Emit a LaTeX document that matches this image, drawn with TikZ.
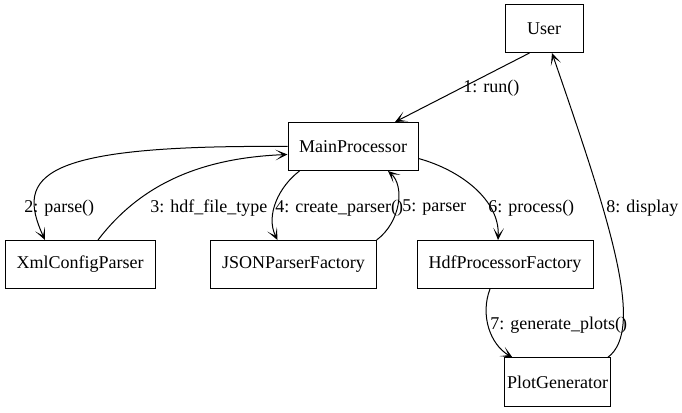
\documentclass[tikz,border=0pt]{standalone}
\usepackage{fontspec}
\setmainfont{Liberation Serif}
\usetikzlibrary{arrows.meta,calc}

\begin{document}
\begin{tikzpicture}[
  x=0.75pt, y=-0.75pt,
  >={Stealth[length=9pt,width=8pt,inset=5.5pt]},
  box/.style={draw,line width=0.75pt,minimum height=36pt,inner sep=0pt,
    font=\fontsize{13.5pt}{16pt}\selectfont},
  msg/.style={->,line width=0.75pt},
  lbl/.style={anchor=west,inner sep=0pt,font=\fontsize{13.5pt}{16pt}\selectfont}
]
  \useasboundingbox (0,0) rectangle (682,413);

  \node[box,minimum width=58.5pt] (user) at (544,28.5) {User};
  \node[box,minimum width=97.5pt] (main) at (353,146.5) {MainProcessor};
  \node[box,minimum width=112.5pt] (xml) at (80,264.5) {XmlConfigParser};
  \node[box,minimum width=124pt] (json) at (293.5,264.5) {JSONParserFactory};
  \node[box,minimum width=132pt] (hdf) at (505,264.5) {HdfProcessorFactory};
  \node[box,minimum width=79pt] (plot) at (557.5,382) {PlotGenerator};

  % messages
  \draw[msg] ($(user.south west)+(25,0)$) -- ($(main.north)+(42,0)$);
  \draw[msg] (main.west) .. controls +(-248,-2) and +(-30,-65) .. ($(xml.north)+(-35,0)$);
  \draw[msg] ($(xml.north)+(18,0)$) .. controls +(42,-55) and +(-88,3.5) .. ($(main.west)+(0,8)$);
  \draw[msg] ($(main.south west)+(12,0)$) .. controls +(-20,15) and +(-12.5,-25) .. ($(json.north)+(-16,0)$);
  \draw[msg] (json.north east) .. controls +(24,-18) and +(17,15) .. ($(main.south)+(35,0)$);
  \draw[msg] ($(main.east)+(0,12)$) .. controls +(42,11.5) and +(2,-40) .. ($(hdf.north)+(-7,0)$);
  \draw[msg] ($(hdf.south)+(-15,0)$) .. controls +(-10,26) and +(-22.5,-13) .. ($(plot.north)+(-45,0)$);
  \draw[msg] ($(plot.north east)+(-3,0)$) .. controls +(38,-28) and +(58,168) .. ($(user.south)+(8,0)$);

  % labels
  \node[lbl] (l1) at (463,88) {1: run()};
  \node[lbl] (l2) at (24,208) {2: parse()};
  \node[lbl] (l3) at (150,208) {3: hdf\_file\_type};
  \node[lbl] (l4) at (275,208) {4: create\_parser()};
  \node[lbl] (l5) at (402,208) {5: parser};
  \node[lbl] (l6) at (488,208) {6: process()};
  \node[lbl] (l7) at (490,325) {7: generate\_plots()};
  \node[lbl] (l8) at (606,208) {8: display};
\end{tikzpicture}
\end{document}
